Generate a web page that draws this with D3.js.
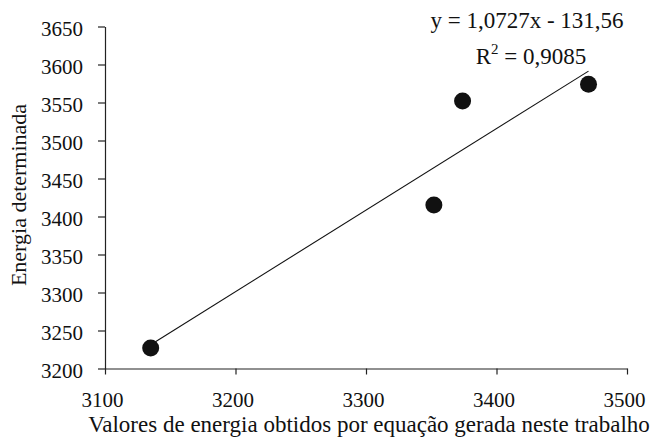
<!DOCTYPE html>
<html>
<head>
<meta charset="utf-8">
<script src="https://cdn.jsdelivr.net/npm/d3@7"></script>
<style>
  body { margin: 0; background: #fff; }
  svg { display: block; }
  svg text { font-family: 'Liberation Serif', 'Times New Roman', serif; }
</style>
</head>
<body>
<div id="chart"></div>
<script>
// data
const predicted = [3135, 3352, 3374, 3470.5];
const measured = [3227, 3415, 3552, 3574];
const xTicks = [3100, 3200, 3300, 3400, 3500];
const yTicks = [3200, 3250, 3300, 3350, 3400, 3450, 3500, 3550, 3600, 3650];
const slope = 1.0727, intercept = -131.56, r2 = "0,9085";

const serif = "'Liberation Serif', 'Times New Roman', serif";
const width = 653, height = 444;
const margin = { top: 26.5, right: 26, bottom: 75.5, left: 105 };

const x = d3.scaleLinear().domain([3100, 3500]).range([margin.left, width - margin.right]);
const y = d3.scaleLinear().domain([3200, 3650]).range([height - margin.bottom, margin.top]);

const svg = d3.select("#chart").append("svg")
    .attr("width", width)
    .attr("height", height)
    .attr("font-family", serif);

const gx = svg.append("g")
    .attr("transform", `translate(0,${height - margin.bottom})`)
    .call(d3.axisBottom(x).tickValues(xTicks).tickFormat(d3.format("d"))
        .tickSize(6).tickPadding(18).tickSizeOuter(0));

const gy = svg.append("g")
    .attr("transform", `translate(${margin.left},0)`)
    .call(d3.axisLeft(y).tickValues(yTicks).tickFormat(d3.format("d"))
        .tickSize(7).tickPadding(15).tickSizeOuter(0));

[gx, gy].forEach(g => {
    g.attr("font-family", serif).attr("font-size", 21);
    g.selectAll("path, line").attr("stroke", "#222").attr("stroke-width", 1.2);
    g.selectAll("text").attr("fill", "#111");
});
gx.selectAll("text").attr("dx", -3);
gy.selectAll("text").attr("dy", "0.42em");

// trend line across the data range
const xs = d3.extent(predicted);
svg.append("line")
    .attr("x1", x(xs[0])).attr("y1", y(slope * xs[0] + intercept))
    .attr("x2", x(xs[1])).attr("y2", y(slope * xs[1] + intercept))
    .attr("stroke", "#111")
    .attr("stroke-width", 1.1);

svg.append("g")
    .selectAll("circle")
    .data(d3.zip(predicted, measured))
    .join("circle")
    .attr("cx", d => x(d[0]))
    .attr("cy", d => y(d[1]))
    .attr("r", 8.5)
    .attr("fill", "#111");

// equation text
svg.append("text")
    .attr("x", 527).attr("y", 28)
    .attr("text-anchor", "middle")
    .attr("font-size", 23)
    .attr("fill", "#111")
    .text(`y = ${d3.format(".4f")(slope).replace(".", ",")}x - ${d3.format(".2f")(-intercept).replace(".", ",")}`);

const rt = svg.append("text")
    .attr("x", 531).attr("y", 63.5)
    .attr("text-anchor", "middle")
    .attr("font-size", 23)
    .attr("fill", "#111");
rt.append("tspan").text("R");
rt.append("tspan").attr("dy", -10).attr("font-size", 15).text("2");
rt.append("tspan").attr("dy", 10).text(" = " + r2);

// axis titles
svg.append("text")
    .attr("x", 369).attr("y", 432)
    .attr("text-anchor", "middle")
    .attr("font-size", 23)
    .attr("fill", "#111")
    .text("Valores de energia obtidos por equação gerada neste trabalho");

svg.append("text")
    .attr("transform", "translate(26,195) rotate(-90)")
    .attr("text-anchor", "middle")
    .attr("font-size", 22)
    .attr("fill", "#111")
    .text("Energia determinada");
</script>
</body>
</html>
